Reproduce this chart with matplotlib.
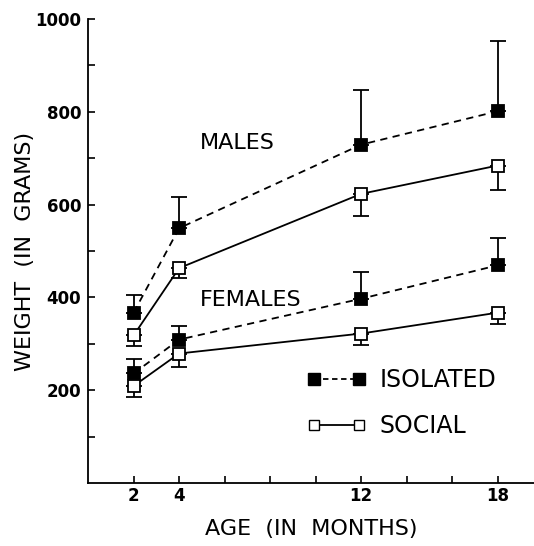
import numpy as np
import matplotlib.pyplot as plt
from matplotlib.lines import Line2D

ages = [2, 4, 12, 18]

male_isolated = [367, 549, 729, 801]
male_isolated_top = [406, 617, 847, 953]
male_social = [318, 463, 623, 684]
male_social_low = [295, 442, 575, 632]

female_isolated = [236, 309, 397, 469]
female_isolated_top = [267, 339, 455, 527]
female_social = [209, 279, 322, 367]
female_social_low = [185, 251, 297, 343]

plt.rcParams['font.family'] = 'DejaVu Sans'

fig = plt.figure(figsize=(5.34, 5.46), dpi=100)
ax = fig.add_axes([0.165, 0.1154, 0.835, 0.85])


def draw(means, ends, style, face, up):
    means = np.array(means)
    ends = np.array(ends)
    if up:
        err = [np.zeros(len(means)), ends - means]
    else:
        err = [means - ends, np.zeros(len(means))]
    ax.errorbar(ages, means, yerr=err, fmt='none', ecolor='black',
                elinewidth=1.3, capsize=6, capthick=1.3, zorder=2)
    ax.plot(ages, means, linestyle=style, color='black', linewidth=1.3,
            dashes=(4, 3) if style == '--' else (None, None),
            marker='s', markersize=8, markerfacecolor=face,
            markeredgecolor='black', markeredgewidth=1.3, zorder=3)


draw(male_isolated, male_isolated_top, '--', 'black', True)
draw(male_social, male_social_low, '-', 'white', False)
draw(female_isolated, female_isolated_top, '--', 'black', True)
draw(female_social, female_social_low, '-', 'white', False)

ax.text(4.9, 733, 'MALES', fontsize=16, va='center', ha='left')
ax.text(4.9, 395, 'FEMALES', fontsize=16, va='center', ha='left')

handles = [
    Line2D([], [], color='black', linestyle='--', dashes=(3, 2), linewidth=1.3,
           marker='s', markersize=8, markerfacecolor='black',
           markeredgecolor='black'),
    Line2D([], [], color='black', linestyle='-', linewidth=1.3,
           marker='s', markersize=7, markerfacecolor='white',
           markeredgecolor='black'),
]
ax.legend(handles, ['ISOLATED', 'SOCIAL'], loc='center left',
          bbox_to_anchor=(0.49, 0.172), frameon=False, fontsize=17,
          numpoints=2, handlelength=2.5, handletextpad=0.6,
          labelspacing=0.95, borderpad=0, borderaxespad=0)

ax.set_xlim(0, 19.6)
ax.set_ylim(0, 1000)
ax.set_xticks(np.arange(2, 19, 2))
ax.set_xticklabels(['2', '4', '', '', '', '12', '', '', '18'])
ax.set_yticks(np.arange(100, 1001, 100))
ax.set_yticklabels(['' if v % 200 else str(v) for v in range(100, 1001, 100)])
ax.tick_params(axis='x', direction='in', length=5, width=1.2, labelsize=12, pad=3)
ax.tick_params(axis='y', direction='in', length=5, width=1.2, labelsize=12, pad=5)
for lab in ax.get_xticklabels() + ax.get_yticklabels():
    lab.set_fontweight('bold')
ax.spines['top'].set_visible(False)
ax.spines['right'].set_visible(False)
ax.spines['left'].set_linewidth(1.3)
ax.spines['bottom'].set_linewidth(1.3)

ax.set_xlabel('AGE  (IN  MONTHS)', fontsize=16, labelpad=10)
ax.set_ylabel('WEIGHT  (IN  GRAMS)', fontsize=16, labelpad=0)

fig.savefig('out.png', dpi=100)
